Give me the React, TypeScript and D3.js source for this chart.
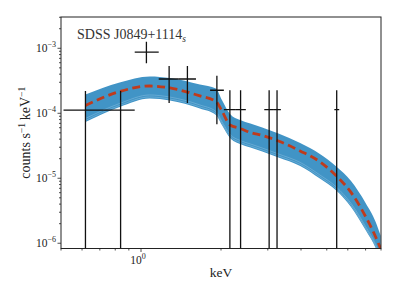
import { useEffect, useRef } from 'react';
import * as d3 from 'd3';

// spectral bins (keV) and count rates
const binCenter = [0.618, 0.838, 1.048, 1.276, 1.495, 1.93, 2.16, 2.37, 3.035, 3.25, 5.45];
const binLo = [0.511, 0.72, 0.947, 1.166, 1.38, 1.82, 2.05, 2.26, 2.91, 3.14, 5.34];
const binHi = [0.72, 0.947, 1.166, 1.38, 1.61, 2.05, 2.26, 2.48, 3.14, 3.36, 5.57];
const rate = [1.12e-4, 1.12e-4, 8.7e-4, 3.37e-4, 3.37e-4, 2.26e-4, 1.135e-4, 1.135e-4, 1.135e-4, 1.135e-4, 1.135e-4];
const rateHi = [2.2e-4, 2.2e-4, 1.26e-3, 5.34e-4, 5.34e-4, 3.79e-4, 2.26e-4, 2.26e-4, 2.26e-4, 2.26e-4, 2.26e-4];
const rateLo = [0, 0, 5.9e-4, 1.44e-4, 1.44e-4, 6.77e-5, 0, 0, 0, 0, 0];

// best-fit model and the spread of posterior draws
const modelE = [0.618, 0.831, 1.079, 1.284, 1.666, 1.914, 2.016, 2.163, 2.36, 2.58, 2.86, 3.29, 3.97, 4.71, 5.43, 6.17, 7.0, 7.64, 7.98];
const modelV = [1.32e-4, 2.16e-4, 2.63e-4, 2.45e-4, 1.85e-4, 1.52e-4, 1.085e-4, 6.6e-5, 5.84e-5, 5.07e-5, 4.55e-5, 3.75e-5, 2.63e-5, 1.79e-5, 1.09e-5, 6.05e-6, 2.58e-6, 1.25e-6, 8.2e-7];
const bandHi = [1.95e-4, 2.98e-4, 3.68e-4, 3.49e-4, 2.77e-4, 2.41e-4, 1.6e-4, 9.75e-5, 7.89e-5, 6.97e-5, 6.05e-5, 4.89e-5, 3.49e-5, 2.37e-5, 1.52e-5, 9.09e-6, 4.17e-6, 2.13e-6, 1.3e-6];
const bandLo = [7.35e-5, 1.25e-4, 1.69e-4, 1.57e-4, 1.185e-4, 9.41e-5, 6.6e-5, 4.17e-5, 3.37e-5, 2.98e-5, 2.58e-5, 2.09e-5, 1.55e-5, 9.93e-6, 6.49e-6, 3.62e-6, 1.6e-6, 8.47e-7, 5.5e-7];

const yDecades = [-6, -5, -4, -3];

export default function App() {
  const svgRef = useRef<SVGSVGElement>(null);

  useEffect(() => {
    if (!svgRef.current) return;
    const svg = d3.select(svgRef.current);
    svg.selectAll('*').remove();

    const left = 61, right = 381, top = 17, bottom = 248.5;
    const x = d3.scaleLog().domain([0.5, 8]).range([left, right]);
    const y = d3.scaleLog().domain([8.3e-7, 3.03e-3]).range([bottom, top]);
    const font = '"Liberation Serif", "DejaVu Serif", serif';

    svg.append('defs').append('clipPath').attr('id', 'plotClip')
      .append('rect').attr('x', left).attr('y', top)
      .attr('width', right - left).attr('height', bottom - top);

    const plot = svg.append('g').attr('clip-path', 'url(#plotClip)');

    // posterior band
    const idx = d3.range(modelE.length);
    const area = d3.area<number>()
      .x(i => x(modelE[i]))
      .y0(i => y(bandLo[i]))
      .y1(i => y(bandHi[i]))
      .curve(d3.curveMonotoneX);
    plot.append('path').datum(idx).attr('d', area)
      .attr('fill', '#4194c6');

    // lighter streaks along the lower edge of the draws
    const lowLine = d3.line<number>()
      .x(i => x(modelE[i]))
      .y(i => y(bandLo[i]))
      .curve(d3.curveMonotoneX);
    [-1.5, -3.5].forEach(off => {
      plot.append('path').datum(idx).attr('d', lowLine)
        .attr('transform', `translate(0,${off})`)
        .attr('fill', 'none').attr('stroke', '#a9d1ec')
        .attr('stroke-width', 0.6).attr('opacity', 0.6);
    });

    // model
    const modelLine = d3.line<number>()
      .x(i => x(modelE[i]))
      .y(i => y(modelV[i]))
      .curve(d3.curveMonotoneX);
    plot.append('path').datum(idx).attr('d', modelLine)
      .attr('fill', 'none').attr('stroke', '#bf3b1c')
      .attr('stroke-width', 2.8).attr('stroke-dasharray', '8,4.5');

    // data with errors
    const errs = plot.append('g').attr('stroke', '#111').attr('stroke-width', 1.3);
    binCenter.forEach((e, i) => {
      const cy = y(rate[i]);
      errs.append('line')
        .attr('x1', x(binLo[i])).attr('x2', x(binHi[i]))
        .attr('y1', cy).attr('y2', cy);
      errs.append('line')
        .attr('x1', x(e)).attr('x2', x(e))
        .attr('y1', rateLo[i] > 0 ? y(rateLo[i]) : bottom + 5)
        .attr('y2', y(rateHi[i]));
    });

    // frame
    svg.append('rect').attr('x', left).attr('y', top)
      .attr('width', right - left).attr('height', bottom - top)
      .attr('fill', 'none').attr('stroke', '#222').attr('stroke-width', 1);

    // y ticks
    const yAxis = svg.append('g').attr('stroke', '#222').attr('stroke-width', 0.8);
    yDecades.forEach(p => {
      for (let m = 1; m < 10; m++) {
        const v = m * Math.pow(10, p);
        const py = y(v);
        if (py < top - 0.5 || py > bottom + 0.5) continue;
        yAxis.append('line').attr('x1', left).attr('x2', left - (m === 1 ? 3.5 : 2))
          .attr('y1', py).attr('y2', py);
      }
      const label = svg.append('text')
        .attr('x', left - 5).attr('y', y(Math.pow(10, p)) + 4)
        .attr('text-anchor', 'end')
        .attr('font-family', font).attr('font-size', 11.5).attr('fill', '#222');
      label.append('tspan').text('10');
      label.append('tspan').attr('dy', -5).attr('font-size', 8).text(`\u2212${-p}`);
    });

    // x ticks
    const xAxis = svg.append('g').attr('stroke', '#222').attr('stroke-width', 0.8);
    [0.5, 0.6, 0.7, 0.8, 0.9, 1, 2, 3, 4, 5, 6, 7, 8].forEach(v => {
      xAxis.append('line').attr('x1', x(v)).attr('x2', x(v))
        .attr('y1', bottom).attr('y2', bottom + (v === 1 ? 3.5 : 2));
    });
    const xl = svg.append('text')
      .attr('x', x(1) - 3).attr('y', bottom + 15)
      .attr('text-anchor', 'middle')
      .attr('font-family', font).attr('font-size', 11.5).attr('fill', '#222');
    xl.append('tspan').text('10');
    xl.append('tspan').attr('dy', -5).attr('font-size', 8).text('0');

    // axis labels
    svg.append('text')
      .attr('x', (left + right) / 2).attr('y', 277)
      .attr('text-anchor', 'middle')
      .attr('font-family', font).attr('font-size', 13.5).attr('fill', '#222')
      .text('keV');

    const yl = svg.append('text')
      .attr('transform', `translate(30,${(top + bottom) / 2}) rotate(-90)`)
      .attr('text-anchor', 'middle')
      .attr('font-family', font).attr('font-size', 14).attr('fill', '#222');
    yl.append('tspan').text('counts s');
    yl.append('tspan').attr('dy', -5.5).attr('font-size', 9.5).text('\u22121');
    yl.append('tspan').attr('dy', 5.5).text('\u2009keV');
    yl.append('tspan').attr('dy', -5.5).attr('font-size', 9.5).text('\u22121');

    // title
    const title = svg.append('text')
      .attr('x', 77).attr('y', 38.5)
      .attr('font-family', font).attr('font-size', 14).attr('fill', '#333');
    title.append('tspan').text('SDSS J0849+1114');
    title.append('tspan').attr('dy', 3).attr('font-size', 9.5).attr('font-style', 'italic').text('s');
  }, []);

  return (
    <svg ref={svgRef} width={399} height={299}
      style={{ position: 'absolute', left: 0, top: 0, background: '#fff' }} />
  );
}
